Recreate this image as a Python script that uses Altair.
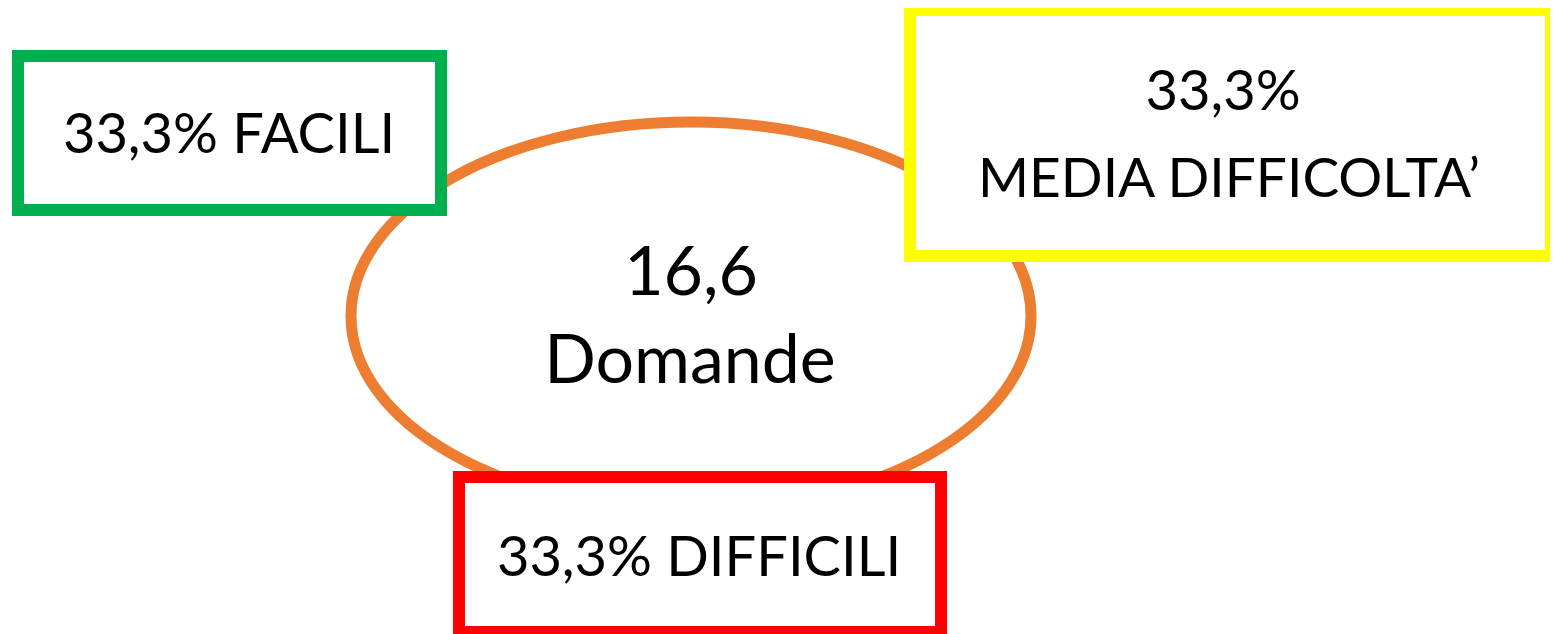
import altair as alt
import pandas as pd

# ---- content ----
box_labels = ["33,3% FACILI", "33,3%", "MEDIA DIFFICOLTA\u2019", "33,3% DIFFICILI"]
center_labels = ["16,6", "Domande"]

# ---- layout (page pixel coordinates) ----
box_names = ["facili", "media", "difficili"]
box_x1 = [18, 910, 459]
box_x2 = [441, 1551, 941]
box_y1 = [56, 10, 477]
box_y2 = [210, 256, 632]
box_colors = ["#00B050", "#FFFF00", "#FF0000"]

text_x = [229, 1223, 1229, 699, 691, 690]
text_y = [153, 110, 197, 576, 295, 383]
text_size = [56, 56, 55, 56, 68, 68]

ell_cx, ell_cy, ell_rx, ell_ry = 691, 316, 340, 194

W, H = 1542, 626
xs = alt.Scale(domain=[8, 8 + W], nice=False, zero=False)
ys = alt.Scale(domain=[8, 8 + H], nice=False, zero=False, reverse=True)

ratio = ell_ry / ell_rx
ell_path = f"M -1 0 A 1 {ratio:.4f} 0 1 1 1 0 A 1 {ratio:.4f} 0 1 1 -1 0 Z"

ell_df = pd.DataFrame({"x": [ell_cx], "y": [ell_cy]})
ellipse = alt.Chart(ell_df).mark_point(
    shape=ell_path, filled=False, color="#ED7D31", strokeWidth=11, opacity=1
).encode(
    x=alt.X("x:Q", scale=xs, axis=None),
    y=alt.Y("y:Q", scale=ys, axis=None),
    size=alt.value((2 * ell_rx) ** 2),
)

box_df = pd.DataFrame({
    "name": box_names, "x1": box_x1, "x2": box_x2,
    "y1": box_y1, "y2": box_y2, "color": box_colors,
})
boxes = alt.Chart(box_df).mark_rect(fill="white", strokeWidth=12, strokeJoin="miter").encode(
    x=alt.X("x1:Q", scale=xs, axis=None), x2="x2:Q",
    y=alt.Y("y1:Q", scale=ys, axis=None), y2="y2:Q",
    stroke=alt.Stroke("color:N", scale=None),
)

text_df = pd.DataFrame({
    "t": box_labels + center_labels, "x": text_x, "y": text_y, "fs": text_size,
})
texts = alt.Chart(text_df).mark_text(
    font="Lato", color="black", align="center", baseline="alphabetic"
).encode(
    x=alt.X("x:Q", scale=xs, axis=None),
    y=alt.Y("y:Q", scale=ys, axis=None),
    text="t:N",
    size=alt.Size("fs:Q", scale=None, legend=None),
)

chart = alt.layer(ellipse, boxes, texts).properties(
    width=W, height=H, padding=0, autosize=alt.AutoSizeParams(type="none"),
    background="white",
).configure_view(stroke=None)

chart.save("out.html", embed_options={"renderer": "svg", "actions": False})
